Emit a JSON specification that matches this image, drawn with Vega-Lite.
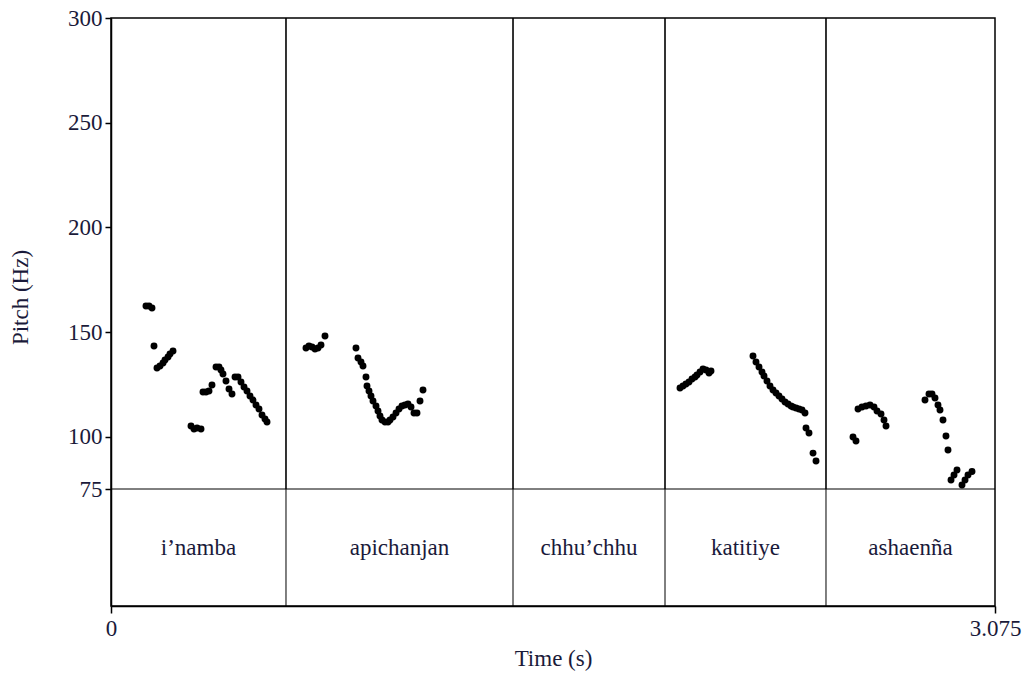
{
  "$schema": "https://vega.github.io/schema/vega-lite/v6.json",
  "width": 884,
  "height": 588,
  "autosize": "none",
  "padding": {"left": 111, "top": 18, "right": 30, "bottom": 69},
  "background": "white",
  "config": {
    "view": {"stroke": "black", "strokeWidth": 1.5},
    "font": "Times New Roman, Liberation Serif, DejaVu Serif, serif"
  },
  "datasets": {
    "pitch": [
      {"t": 0.1217, "f": 162.42}, {"t": 0.1322, "f": 162.42}, {"t": 0.1426, "f": 161.47},
      {"t": 0.1496, "f": 143.31},
      {"t": 0.1600, "f": 132.80}, {"t": 0.1704, "f": 133.76}, {"t": 0.1809, "f": 135.19}, {"t": 0.1878, "f": 136.62}, {"t": 0.1983, "f": 138.05}, {"t": 0.2052, "f": 139.49}, {"t": 0.2157, "f": 140.92},
      {"t": 0.2783, "f": 105.10}, {"t": 0.2887, "f": 103.66}, {"t": 0.2992, "f": 104.14}, {"t": 0.3131, "f": 103.66},
      {"t": 0.3200, "f": 121.34}, {"t": 0.3305, "f": 121.34}, {"t": 0.3409, "f": 121.81}, {"t": 0.3513, "f": 124.68},
      {"t": 0.3653, "f": 133.28}, {"t": 0.3757, "f": 133.28}, {"t": 0.3826, "f": 131.85}, {"t": 0.3896, "f": 129.94}, {"t": 0.4000, "f": 126.59}, {"t": 0.4105, "f": 122.77}, {"t": 0.4209, "f": 120.38},
      {"t": 0.4314, "f": 128.50}, {"t": 0.4418, "f": 128.50}, {"t": 0.4522, "f": 126.11}, {"t": 0.4627, "f": 123.72}, {"t": 0.4731, "f": 121.81}, {"t": 0.4835, "f": 119.43}, {"t": 0.4940, "f": 117.51}, {"t": 0.5044, "f": 115.13}, {"t": 0.5148, "f": 113.22}, {"t": 0.5253, "f": 110.35}, {"t": 0.5357, "f": 108.44}, {"t": 0.5427, "f": 107.01},
      {"t": 0.6783, "f": 142.36}, {"t": 0.6887, "f": 143.31}, {"t": 0.6992, "f": 142.83}, {"t": 0.7096, "f": 141.88}, {"t": 0.7200, "f": 142.36}, {"t": 0.7305, "f": 143.79}, {"t": 0.7444, "f": 148.09},
      {"t": 0.8522, "f": 142.36}, {"t": 0.8592, "f": 137.58}, {"t": 0.8696, "f": 135.67}, {"t": 0.8766, "f": 133.76}, {"t": 0.8870, "f": 128.50}, {"t": 0.8905, "f": 124.20}, {"t": 0.8975, "f": 121.81}, {"t": 0.9044, "f": 119.43}, {"t": 0.9114, "f": 117.04}, {"t": 0.9218, "f": 114.65}, {"t": 0.9288, "f": 112.26}, {"t": 0.9357, "f": 109.87}, {"t": 0.9427, "f": 107.96}, {"t": 0.9531, "f": 107.01}, {"t": 0.9636, "f": 107.01}, {"t": 0.9705, "f": 107.96}, {"t": 0.9809, "f": 109.39}, {"t": 0.9914, "f": 111.30}, {"t": 1.0018, "f": 113.22}, {"t": 1.0122, "f": 114.65}, {"t": 1.0227, "f": 115.13}, {"t": 1.0331, "f": 115.61}, {"t": 1.0436, "f": 114.17}, {"t": 1.0540, "f": 111.30}, {"t": 1.0644, "f": 111.30}, {"t": 1.0749, "f": 117.04}, {"t": 1.0853, "f": 122.29},
      {"t": 1.9793, "f": 123.25}, {"t": 1.9897, "f": 124.20}, {"t": 2.0001, "f": 125.16}, {"t": 2.0106, "f": 126.11}, {"t": 2.0210, "f": 127.54}, {"t": 2.0315, "f": 128.50}, {"t": 2.0384, "f": 129.46}, {"t": 2.0489, "f": 130.89}, {"t": 2.0593, "f": 132.32}, {"t": 2.0697, "f": 131.85}, {"t": 2.0802, "f": 130.41}, {"t": 2.0871, "f": 131.37},
      {"t": 2.2332, "f": 138.53}, {"t": 2.2436, "f": 135.67}, {"t": 2.2541, "f": 133.28}, {"t": 2.2645, "f": 130.89}, {"t": 2.2715, "f": 128.98}, {"t": 2.2819, "f": 126.59}, {"t": 2.2923, "f": 124.20}, {"t": 2.3028, "f": 122.29}, {"t": 2.3132, "f": 120.86}, {"t": 2.3236, "f": 119.43}, {"t": 2.3341, "f": 117.99}, {"t": 2.3445, "f": 116.56}, {"t": 2.3550, "f": 115.61}, {"t": 2.3654, "f": 114.65}, {"t": 2.3724, "f": 114.17}, {"t": 2.3828, "f": 113.69}, {"t": 2.3932, "f": 113.22}, {"t": 2.4037, "f": 112.74}, {"t": 2.4141, "f": 111.30}, {"t": 2.4176, "f": 104.14}, {"t": 2.4280, "f": 101.75}, {"t": 2.4420, "f": 92.15}, {"t": 2.4524, "f": 88.37},
      {"t": 2.5811, "f": 99.84}, {"t": 2.5915, "f": 97.93},
      {"t": 2.5985, "f": 113.22}, {"t": 2.6124, "f": 114.17}, {"t": 2.6263, "f": 114.65}, {"t": 2.6402, "f": 115.13}, {"t": 2.6541, "f": 114.17}, {"t": 2.6646, "f": 112.26}, {"t": 2.6785, "f": 110.83}, {"t": 2.6889, "f": 107.96}, {"t": 2.6959, "f": 105.10},
      {"t": 2.8315, "f": 117.51}, {"t": 2.8454, "f": 120.38}, {"t": 2.8559, "f": 120.38}, {"t": 2.8663, "f": 118.47}, {"t": 2.8767, "f": 115.13}, {"t": 2.8837, "f": 112.74}, {"t": 2.8941, "f": 107.96}, {"t": 2.9045, "f": 100.32}, {"t": 2.9115, "f": 93.63}, {"t": 2.9220, "f": 79.30}, {"t": 2.9324, "f": 81.70}, {"t": 2.9428, "f": 84.07}, {"t": 2.9602, "f": 76.90}, {"t": 2.9707, "f": 79.30}, {"t": 2.9811, "f": 81.70}, {"t": 2.9950, "f": 83.40}
    ],
    "boundsPitch": [
      {"t": 0.6087, "f": 75, "f2": 300}, {"t": 1.3984, "f": 75, "f2": 300}, {"t": 1.9271, "f": 75, "f2": 300}, {"t": 2.4871, "f": 75, "f2": 300}
    ],
    "boundsTier": [
      {"t": 0.6087, "f": 19.11, "f2": 75}, {"t": 1.3984, "f": 19.11, "f2": 75}, {"t": 1.9271, "f": 19.11, "f2": 75}, {"t": 2.4871, "f": 19.11, "f2": 75}
    ],
    "hline": [
      {"t": 0, "t2": 3.075, "f": 75}
    ],
    "words": [
      {"t": 0.3043, "f": 46.8, "word": "i’namba"},
      {"t": 1.0035, "f": 46.8, "word": "apichanjan"},
      {"t": 1.6627, "f": 46.8, "word": "chhu’chhu"},
      {"t": 2.2071, "f": 46.8, "word": "katitiye"},
      {"t": 2.7810, "f": 46.8, "word": "ashaenña"}
    ]
  },
  "encoding": {
    "x": {
      "field": "t", "type": "quantitative",
      "scale": {"domain": [0, 3.075], "nice": false, "zero": false},
      "axis": {
        "values": [0, 3.075], "format": ".3~f", "labelFlush": false,
        "grid": false, "domainColor": "black", "domainWidth": 1.5,
        "tickColor": "black", "tickWidth": 1.5, "tickSize": 7,
        "labelFont": "Times New Roman, Liberation Serif, DejaVu Serif, serif", "labelFontSize": 23, "labelColor": "#1a1a3a", "labelPadding": 4,
        "title": "Time (s)", "titleFont": "Times New Roman, Liberation Serif, DejaVu Serif, serif", "titleFontSize": 23, "titleFontWeight": "normal", "titleColor": "#1a1a3a", "titlePadding": 7
      }
    },
    "y": {
      "field": "f", "type": "quantitative",
      "scale": {"domain": [19.11, 300], "nice": false, "zero": false},
      "axis": {
        "values": [75, 100, 150, 200, 250, 300],
        "grid": false, "domainColor": "black", "domainWidth": 1.5,
        "tickColor": "black", "tickWidth": 1.5, "tickSize": 6,
        "labelFont": "Times New Roman, Liberation Serif, DejaVu Serif, serif", "labelFontSize": 23, "labelColor": "#1a1a3a", "labelPadding": 3,
        "title": "Pitch (Hz)", "titleFont": "Times New Roman, Liberation Serif, DejaVu Serif, serif", "titleFontSize": 23, "titleFontWeight": "normal", "titleColor": "#1a1a3a", "titlePadding": 35, "titleY": 279
      }
    }
  },
  "layer": [
    {
      "data": {"name": "hline"},
      "mark": {"type": "rule", "color": "black", "strokeWidth": 1},
      "encoding": {"x2": {"field": "t2"}}
    },
    {
      "data": {"name": "boundsPitch"},
      "mark": {"type": "rule", "color": "black", "strokeWidth": 1.6},
      "encoding": {"y2": {"field": "f2"}}
    },
    {
      "data": {"name": "boundsTier"},
      "mark": {"type": "rule", "color": "black", "strokeWidth": 1},
      "encoding": {"y2": {"field": "f2"}}
    },
    {
      "data": {"name": "pitch"},
      "mark": {"type": "circle", "color": "black", "opacity": 1, "size": 48}
    },
    {
      "data": {"name": "words"},
      "mark": {"type": "text", "font": "Times New Roman, Liberation Serif, DejaVu Serif, serif", "fontSize": 23, "color": "#1a1a3a", "baseline": "middle", "align": "center"},
      "encoding": {"text": {"field": "word"}}
    }
  ]
}
